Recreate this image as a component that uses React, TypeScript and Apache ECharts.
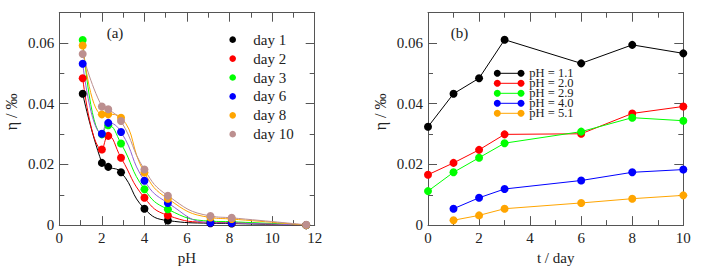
import React, { useEffect, useRef } from "react";
import * as echarts from "echarts";

// ---- Data (panel a): eta vs pH for several days ----
const phValues = [1.1, 2.0, 2.3, 2.9, 4.0, 5.1, 7.1, 8.1, 11.6];
const dayNames = ["day 1", "day 2", "day 3", "day 6", "day 8", "day 10"];
const etaDay1 = [0.0433, 0.0205, 0.0192, 0.0174, 0.0054, 0.0015, 0.0006, 0.0005, 0];
const etaDay2 = [0.0484, 0.0249, 0.0294, 0.0222, 0.009, 0.0032, 0.0009, 0.0008, 0];
const etaDay3 = [0.061, 0.0299, 0.0329, 0.0269, 0.0118, 0.0052, 0.0013, 0.0011, 0];
const etaDay6 = [0.0532, 0.0301, 0.0337, 0.0307, 0.0146, 0.0073, 0.0008, 0.0007, 0];
const etaDay8 = [0.0592, 0.0365, 0.0365, 0.0354, 0.0173, 0.0087, 0.0025, 0.002, 0];
const etaDay10 = [0.0564, 0.0391, 0.0382, 0.0343, 0.0183, 0.0097, 0.003, 0.0024, 0.0001];

// ---- Data (panel b): eta vs time for several pH ----
const dayValues = [0, 1, 2, 3, 6, 8, 10];
const phNames = ["pH = 1.1", "pH = 2.0", "pH = 2.9", "pH = 4.0", "pH = 5.1"];
const etaPh11 = [0.0324, 0.0433, 0.0484, 0.0611, 0.0533, 0.0594, 0.0566];
const etaPh20 = [0.0166, 0.0205, 0.0248, 0.0299, 0.0301, 0.0368, 0.0391];
const etaPh29 = [0.0112, 0.0174, 0.0222, 0.027, 0.0308, 0.0354, 0.0344];
const etaPh40 = [null, 0.0054, 0.009, 0.0119, 0.0147, 0.0174, 0.0183];
const etaPh51 = [null, 0.0016, 0.0032, 0.0054, 0.0073, 0.0087, 0.0098];

const xTicksA = { min: 0, max: 12, interval: 2 };
const xTicksB = { min: 0, max: 10, interval: 2 };
const yTicks = { min: 0, max: 0.07, interval: 0.02, minorInterval: 0.01 };

const FONT = "Liberation Serif";
const AX = "#555";
const TXT = "#222";

const dayMarkerColors = ["#000000", "#ff0000", "#00ff00", "#0000ff", "#ffa500", "#bc8f8f"];
const dayLineColors = ["#000000", "#ff0000", "#00ff00", "#9060d8", "#ffa500", "#bc8f8f"];
const phColors = ["#000000", "#ff0000", "#00ff00", "#0000ff", "#ffa500"];

export default function App() {
  const ref = useRef<HTMLDivElement>(null);

  useEffect(() => {
    if (!ref.current) return;
    const chart = echarts.init(ref.current, undefined, { renderer: "svg" });

    const gridA = { left: 59.3, top: 12.7, width: 255.4, height: 216.6 };
    const gridB = { left: 428, top: 12.7, width: 255.3, height: 216.6 };

    const lineStyle = { color: AX, width: 1 };

    const xAxisPair = (gridIndex: number, t: any, name: string) => {
      const base = {
        type: "value",
        gridIndex,
        min: t.min,
        max: t.max,
        interval: t.interval,
        axisLine: { show: true, onZero: false, lineStyle },
        axisTick: { show: true, inside: true, length: 9, lineStyle },
        minorTick: { show: true, splitNumber: 2, length: 5, lineStyle },
        splitLine: { show: false },
        minorSplitLine: { show: false },
      };
      return [
        {
          ...base,
          position: "bottom",
          name,
          nameLocation: "middle",
          nameGap: 21,
          nameTextStyle: { fontFamily: FONT, fontSize: 15, color: TXT },
          axisLabel: { fontFamily: FONT, fontSize: 15, color: TXT, margin: 5 },
        },
        { ...base, position: "top", axisLabel: { show: false } },
      ];
    };

    const yAxisSet = (gridIndex: number) => {
      const major = {
        type: "value",
        gridIndex,
        min: yTicks.min,
        max: yTicks.max,
        interval: yTicks.interval,
        axisLine: { show: true, onZero: false, lineStyle },
        axisTick: { show: true, inside: true, length: 9, lineStyle },
        splitLine: { show: false },
      };
      const minor = {
        ...major,
        interval: yTicks.minorInterval,
        axisTick: { show: true, inside: true, length: 5, lineStyle },
        axisLabel: { show: false },
      };
      return [
        {
          ...major,
          position: "left",
          name: "η / ‰",
          nameLocation: "middle",
          nameGap: 40,
          nameTextStyle: { fontFamily: FONT, fontSize: 16, color: TXT, padding: [0, 0, 0, 14] },
          axisLabel: {
            fontFamily: FONT,
            fontSize: 15,
            color: TXT,
            margin: 5,
            showMaxLabel: false,
            formatter: (v: number) => (v === 0 ? "0" : v.toFixed(2)),
          },
        },
        { ...major, position: "right", axisLabel: { show: false } },
        { ...minor, position: "left" },
        { ...minor, position: "right" },
      ];
    };

    const dayData = [etaDay1, etaDay2, etaDay3, etaDay6, etaDay8, etaDay10];
    const phData = [etaPh11, etaPh20, etaPh29, etaPh40, etaPh51];

    const seriesA = dayData.map((arr, i) => ({
      type: "line",
      name: dayNames[i],
      xAxisIndex: 0,
      yAxisIndex: 0,
      smooth: 0.5,
      symbol: "circle",
      symbolSize: 8,
      showAllSymbol: true,
      itemStyle: { color: dayMarkerColors[i] },
      lineStyle: { color: dayLineColors[i], width: 1 },
      data: phValues.map((p, k) => [p, arr[k]]),
    }));

    const seriesB = phData.map((arr, i) => ({
      type: "line",
      name: phNames[i],
      xAxisIndex: 2,
      yAxisIndex: 4,
      symbol: "circle",
      symbolSize: 8,
      showAllSymbol: true,
      itemStyle: { color: phColors[i] },
      lineStyle: { color: phColors[i], width: 1 },
      data: dayValues
        .map((d, k) => [d, arr[k]])
        .filter((p) => p[1] !== null),
    }));

    const graphics: any[] = [];
    graphics.push({
      type: "text",
      x: 115,
      y: 33.3,
      style: { text: "(a)", font: `15px ${FONT}`, fill: TXT, align: "center", verticalAlign: "middle" },
    });
    graphics.push({
      type: "text",
      x: 459.5,
      y: 33.3,
      style: { text: "(b)", font: `15px ${FONT}`, fill: TXT, align: "center", verticalAlign: "middle" },
    });
    // legend (a)
    dayNames.forEach((n, i) => {
      const y = 39.7 + i * 18.9;
      graphics.push({ type: "circle", shape: { cx: 232.7, cy: y, r: 3.3 }, style: { fill: dayMarkerColors[i] } });
      graphics.push({
        type: "text",
        x: 253.3,
        y,
        style: { text: n, font: `15px ${FONT}`, fill: TXT, align: "left", verticalAlign: "middle" },
      });
    });
    // legend (b)
    phNames.forEach((n, i) => {
      const y = 73.3 + i * 10;
      graphics.push({ type: "line", shape: { x1: 497.3, y1: y, x2: 521, y2: y }, style: { stroke: phColors[i], lineWidth: 1 } });
      graphics.push({ type: "circle", shape: { cx: 497.3, cy: y, r: 3.5 }, style: { fill: phColors[i] } });
      graphics.push({ type: "circle", shape: { cx: 521, cy: y, r: 3.5 }, style: { fill: phColors[i] } });
      graphics.push({
        type: "text",
        x: 529.3,
        y,
        style: {
          text: n,
          font: `12.5px ${FONT}`,
          lineHeight: 9.5,
          fill: TXT,
          align: "left",
          verticalAlign: "middle",
        },
      });
    });

    chart.setOption({
      animation: false,
      backgroundColor: "#ffffff",
      grid: [gridA, gridB],
      xAxis: [...xAxisPair(0, xTicksA, "pH"), ...xAxisPair(1, xTicksB, "t / day")],
      yAxis: [...yAxisSet(0), ...yAxisSet(1)],
      series: [...seriesA, ...seriesB],
      graphic: graphics,
    });

    return () => chart.dispose();
  }, []);

  return (
    <div
      ref={ref}
      style={{ position: "fixed", left: 0, top: 0, width: 701, height: 270, background: "#fff" }}
    />
  );
}
